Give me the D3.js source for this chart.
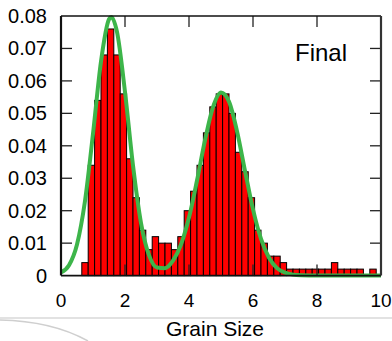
<!DOCTYPE html>
<html><head><meta charset="utf-8">
<script src="https://cdn.jsdelivr.net/npm/d3@7"></script>
<style>html,body{margin:0;padding:0;background:#fff;}svg{display:block;}</style>
</head><body>
<script>
// ---- data ----
const binWidth = 0.2;
const binFirstEdge = 0.65;
const binValues = [0.004,0.034,0.054,0.068,0.076,0.068,0.056,0.036,0.024,0.014,
  0.008,0.012,0.010,0.010,0.008,0.012,0.020,0.026,0.034,0.044,
  0.052,0.056,0.056,0.050,0.038,0.032,0.024,0.014,0.010,0.006,
  0.006,0.004,0.002,0.002,0.002,0.002,0.002,0.002,0.002,0.004,
  0.002,0.002,0.002,0.002,0,0.002];
const fitX = [0,0.25,0.5,0.75,1,1.25,1.5,1.57,1.75,2,2.25,2.5,2.75,3,3.25,3.5,3.75,4,4.25,4.5,4.75,5,5.25,5.5,5.75,6,6.25,6.5,6.75,7,7.25,7.5,8,9,10];
const fitY = [0.0010,0.0032,0.0096,0.0230,0.0437,0.0660,0.0790,0.0797,0.0751,0.0566,0.0339,0.0162,0.0063,0.0025,0.0023,0.0046,0.0096,0.0179,0.0293,0.0417,0.0519,0.0564,0.0536,0.0445,0.0323,0.0204,0.0113,0.0055,0.0023,0.0009,0.0003,0.0001,0,0,0];
const xTicks = [0,2,4,6,8,10];
const yTicks = [0,0.01,0.02,0.03,0.04,0.05,0.06,0.07,0.08];
const yTickLabels = ["0","0.01","0.02","0.03","0.04","0.05","0.06","0.07","0.08"];
const annotation = "Final";
const xTitle = "Grain Size";

// ---- layout ----
const W = 392, H = 341;
const L = 61, R = 381, T = 16, B = 275.6;
const svg = d3.select("body").append("svg").attr("width", W).attr("height", H);
const x = d3.scaleLinear().domain([0,10]).range([L,R]);
const y = d3.scaleLinear().domain([0,0.08]).range([B,T]);
const font = "'Liberation Sans', Arial, sans-serif";

// decorative background lines
svg.append("line").attr("x1",0).attr("x2",W).attr("y1",318).attr("y2",318)
  .attr("stroke","#e2e2e2").attr("stroke-width",2);
svg.append("path").attr("d","M0,320 Q52,321 88,341").attr("fill","none")
  .attr("stroke","#cfcfcf").attr("stroke-width",1.5);

// bars
const bars = binValues.map((v,j)=>({x0: binFirstEdge + j*binWidth, v}));
svg.append("g").selectAll("rect").data(bars.filter(d=>d.v>0)).join("rect")
  .attr("x", d=>x(d.x0)).attr("width", d=>x(d.x0+binWidth)-x(d.x0))
  .attr("y", d=>y(d.v)).attr("height", d=>y(0)-y(d.v))
  .attr("fill","#ff0000").attr("stroke","#000").attr("stroke-width",1);

// fit curve
const line = d3.line().x(d=>x(d[0])).y(d=>y(d[1])).curve(d3.curveMonotoneX);
svg.append("path").datum(fitX.map((v,i)=>[v,fitY[i]]))
  .attr("d", line).attr("fill","none").attr("stroke","#3db54a").attr("stroke-width",4)
  .attr("stroke-linejoin","round");

// ticks (inward on all sides)
const tickLen = 11;
const tg = svg.append("g").attr("stroke","#222").attr("stroke-width",1.3);
xTicks.slice(1,-1).forEach(t=>{
  tg.append("line").attr("x1",x(t)).attr("x2",x(t)).attr("y1",B).attr("y2",B-tickLen);
  tg.append("line").attr("x1",x(t)).attr("x2",x(t)).attr("y1",T).attr("y2",T+tickLen);
});
yTicks.slice(1,-1).forEach(t=>{
  tg.append("line").attr("x1",L).attr("x2",L+tickLen).attr("y1",y(t)).attr("y2",y(t));
  tg.append("line").attr("x1",R).attr("x2",R-tickLen).attr("y1",y(t)).attr("y2",y(t));
});

// frame
svg.append("line").attr("x1",L).attr("x2",R).attr("y1",T).attr("y2",T).attr("stroke","#111").attr("stroke-width",1.3);
svg.append("line").attr("x1",L).attr("x2",R).attr("y1",B).attr("y2",B).attr("stroke","#111").attr("stroke-width",1.8);
svg.append("line").attr("x1",L).attr("x2",L).attr("y1",T).attr("y2",B).attr("stroke","#111").attr("stroke-width",2.2);
svg.append("line").attr("x1",R).attr("x2",R).attr("y1",T).attr("y2",B).attr("stroke","#333").attr("stroke-width",2.2);

// tick labels
svg.append("g").selectAll("text").data(xTicks).join("text")
  .attr("x", d=>x(d)).attr("y", 306.5).attr("text-anchor","middle")
  .attr("font-family",font).attr("font-size",19).attr("fill","#000").text(d=>d);
svg.append("g").selectAll("text").data(yTicks).join("text")
  .attr("x", 47).attr("y", d=>y(d)+7).attr("text-anchor","end")
  .attr("font-family",font).attr("font-size",20).attr("fill","#000").text((d,i)=>yTickLabels[i]);

// annotation and title
svg.append("text").attr("x",347).attr("y",61).attr("text-anchor","end")
  .attr("font-family",font).attr("font-size",24).attr("fill","#000").text(annotation);
svg.append("text").attr("x",215).attr("y",336).attr("text-anchor","middle")
  .attr("font-family",font).attr("font-size",21).attr("fill","#000").text(xTitle);
</script>
</body></html>
